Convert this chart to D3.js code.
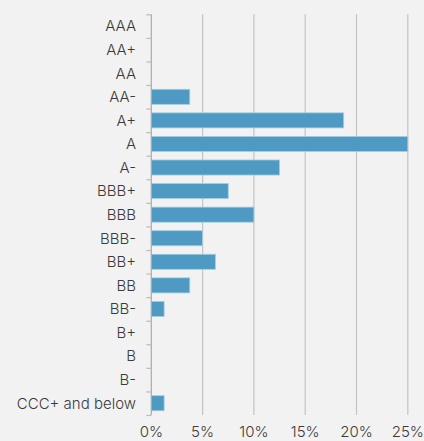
<!DOCTYPE html>
<html><head><meta charset="utf-8">
<script src="https://cdn.jsdelivr.net/npm/d3@7/dist/d3.min.js"></script>
<style>
html,body{margin:0;padding:0;background:#f2f2f2;}
svg{display:block;}
text{font-family:Inter, "Noto Sans", sans-serif;fill:#3a3a3a;font-weight:300;}
</style></head><body>
<svg id="c" width="424" height="441"></svg>
<script>
const categories = ["AAA","AA+","AA","AA-","A+","A","A-","BBB+","BBB","BBB-","BB+","BB","BB-","B+","B","B-","CCC+ and below"];
const values = [0,0,0,3.75,18.75,25,12.5,7.5,10,5,6.25,3.75,1.25,0,0,0,1.25];
const xTicks = [0,5,10,15,20,25];

const svg = d3.select("#c");
const m = {left:151.3, top:14.3, bottom:415};
const x = d3.scaleLinear().domain([0,25]).range([m.left, 407.8]);
const y = d3.scaleBand().domain(categories).range([m.top, 415]).paddingInner(0.36).paddingOuter(0.18);

svg.append("g").selectAll("line").data(xTicks.slice(1)).join("line")
  .attr("x1",d=>x(d)).attr("x2",d=>x(d)).attr("y1",m.top).attr("y2",415)
  .attr("stroke","#c4c4c4").attr("stroke-width",1.2);

svg.append("g").selectAll("rect").data(values.map((v,i)=>({c:categories[i],v}))).join("rect")
  .filter(d=>d.v>0)
  .attr("x",x(0)).attr("y",d=>y(d.c)).attr("width",d=>x(d.v)-x(0)).attr("height",y.bandwidth())
  .attr("fill","#4e9ac3").attr("stroke","#a9cde2").attr("stroke-width",0.8);

const ya = d3.axisLeft(d3.scaleLinear().domain([0,17]).range([m.top,415])).tickValues(d3.range(0,18)).tickSize(5).tickFormat("");
const yg = svg.append("g").attr("transform",`translate(${m.left},0)`).call(ya);
yg.select(".domain").attr("stroke","#aaa").attr("stroke-width",1.2).attr("d",`M0,${m.top}V415`);
yg.selectAll(".tick line").attr("stroke","#bbb").attr("stroke-width",1.2);

svg.append("g").selectAll("text").data(categories).join("text")
  .attr("x",136).attr("y",d=>y(d)+y.bandwidth()/2).attr("dy","0.36em")
  .attr("text-anchor","end").attr("font-size",15).text(d=>d);

svg.append("g").selectAll("text").data(xTicks).join("text")
  .attr("x",d=>x(d)).attr("y",436.5).attr("text-anchor","middle").attr("font-size",15)
  .text(d=>d+"%");
</script>
</body></html>
